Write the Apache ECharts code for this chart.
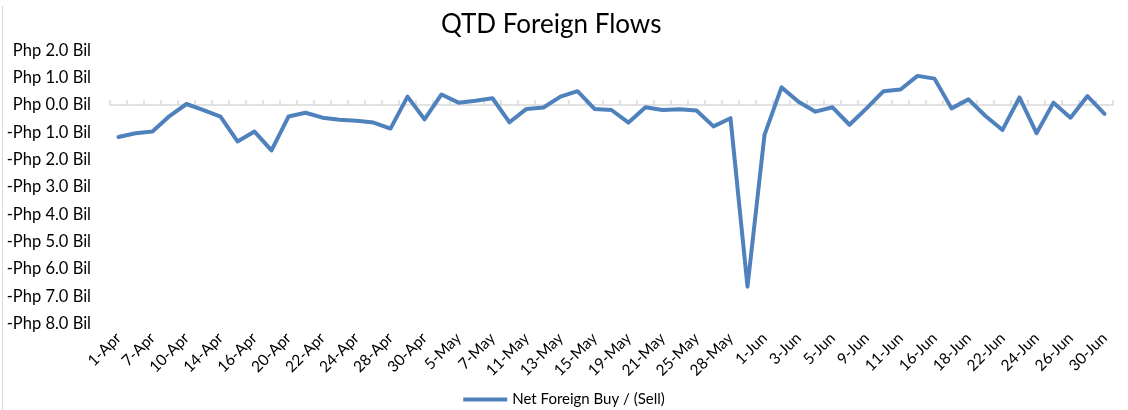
<!DOCTYPE html>
<html>
<head>
<meta charset="utf-8">
<script src="https://cdn.jsdelivr.net/npm/echarts@6/dist/echarts.min.js"></script>
<style>html,body{margin:0;padding:0;background:#fff}#c{width:1128px;height:410px}</style>
</head>
<body>
<div id="c"></div>
<script>
const categories = [
  '1-Apr','6-Apr','7-Apr','8-Apr','10-Apr','13-Apr','14-Apr','15-Apr','16-Apr','17-Apr',
  '20-Apr','21-Apr','22-Apr','23-Apr','24-Apr','27-Apr','28-Apr','29-Apr','30-Apr',
  '4-May','5-May','6-May','7-May','8-May','11-May','12-May','13-May','14-May','15-May',
  '18-May','19-May','20-May','21-May','22-May','25-May','26-May','28-May','29-May',
  '1-Jun','2-Jun','3-Jun','4-Jun','5-Jun','8-Jun','9-Jun','10-Jun','11-Jun','15-Jun',
  '16-Jun','17-Jun','18-Jun','19-Jun','22-Jun','23-Jun','24-Jun','25-Jun','26-Jun','29-Jun','30-Jun'
];
const netForeign = [
  -1.17,-1.03,-0.97,-0.40,0.04,-0.18,-0.42,-1.33,-0.97,-1.66,
  -0.42,-0.28,-0.46,-0.54,-0.57,-0.64,-0.86,0.31,-0.52,
  0.39,0.09,0.16,0.25,-0.63,-0.14,-0.09,0.31,0.51,-0.14,
  -0.18,-0.64,-0.08,-0.18,-0.15,-0.20,-0.78,-0.48,-6.65,
  -1.09,0.65,0.12,-0.24,-0.08,-0.72,-0.12,0.51,0.57,1.07,
  0.97,-0.12,0.21,-0.40,-0.91,0.28,-1.03,0.09,-0.46,0.33,-0.32
];
const yTicks = {min: -8, max: 2, interval: 1};
const seriesName = 'Net Foreign Buy / (Sell)';
const titleText = 'QTD Foreign Flows';

function fmt(v){
  const a = Math.abs(v).toFixed(1);
  return (v < 0 ? '-' : '') + 'Php ' + a + ' Bil';
}
const font = 'Lato, "Open Sans", sans-serif';
const chart = echarts.init(document.getElementById('c'), null, {renderer:'canvas'});
chart.setOption({
  animation: false,
  backgroundColor: '#fff',
  title: {text: titleText, left: 436, top: 7,
    textStyle: {fontFamily: font, fontSize: 26, fontWeight: 'normal', color: '#000'}},
  legend: {top: 392, left: 'center', padding: 0, icon: 'rect', itemWidth: 44, itemHeight: 4, itemGap: 8,
    textStyle: {fontFamily: font, fontSize: 15, color: '#000'}, data: [seriesName]},
  grid: {left: 110, right: 15, top: 50.5, bottom: 86.5, containLabel: false},
  graphic: [{type: 'line', shape: {x1: 2.5, y1: 6, x2: 2.5, y2: 410}, style: {stroke: '#d9d9d9', lineWidth: 1}, silent: true}],
  xAxis: [{
    type: 'category', data: categories, boundaryGap: true, position: 'bottom',
    axisLine: {show: false, onZero: false}, axisTick: {show: false},
    axisLabel: {interval: 1, rotate: 45, margin: 12, fontFamily: font, fontSize: 15.5, color: '#000'}
  },{
    type: 'category', data: categories, boundaryGap: true,
    axisLine: {show: true, onZero: true, lineStyle: {color: '#d9d9d9', width: 1.5}},
    axisTick: {show: true, interval: 0, length: 5, inside: false, lineStyle: {color: '#d9d9d9', width: 1.5}},
    axisLabel: {show: false}
  }],
  yAxis: {
    type: 'value', min: yTicks.min, max: yTicks.max, interval: yTicks.interval,
    axisLine: {show: false}, axisTick: {show: false}, splitLine: {show: false},
    axisLabel: {formatter: fmt, margin: 19, fontFamily: font, fontSize: 16.5, color: '#000'}
  },
  series: [{
    name: seriesName, type: 'line', xAxisIndex: 0, data: netForeign,
    showSymbol: false, symbol: 'none',
    lineStyle: {color: '#4f81bd', width: 4, cap: 'round', join: 'round'},
    itemStyle: {color: '#4f81bd'}
  }]
});
</script>
</body>
</html>
